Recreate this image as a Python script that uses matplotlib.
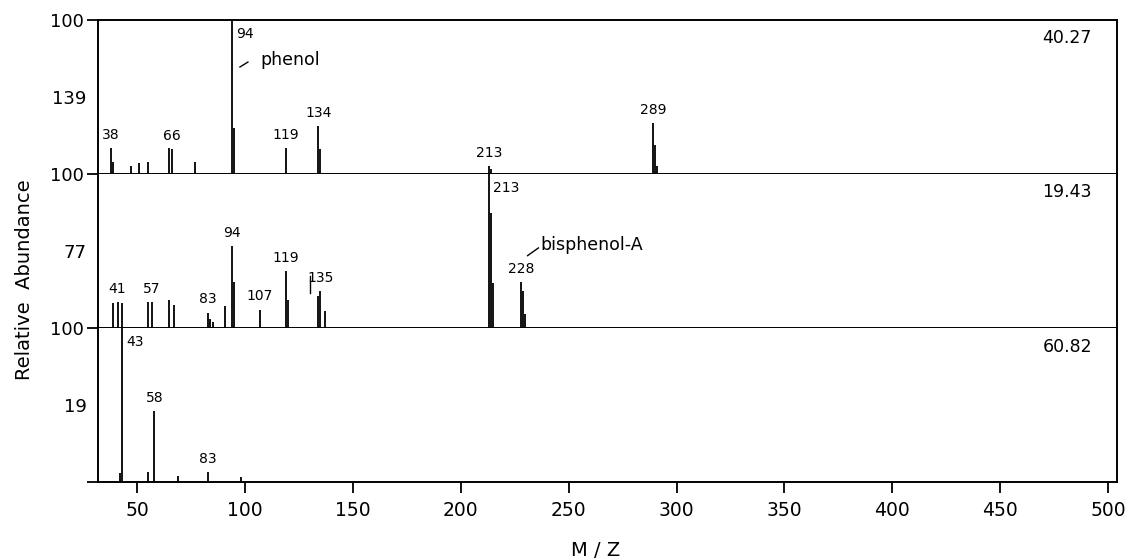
import matplotlib.pyplot as plt

# ---- spectra (m/z, relative abundance %) ----
top_mz = [38, 39, 47, 51, 55, 65, 66, 77, 94, 95, 119, 134, 135, 213, 214, 289, 290, 291]
top_int = [17, 8, 5, 7, 8, 17, 16, 8, 100, 30, 17, 31, 16, 5, 3, 33, 19, 5]

mid_mz = [39, 41, 43, 55, 57, 65, 67, 83, 84, 85, 91, 94, 95, 107, 119, 120,
          134, 135, 137, 213, 214, 215, 228, 229, 230]
mid_int = [16, 17, 16, 17, 17, 18, 15, 10, 6, 4, 14, 53, 30, 12, 37, 18,
           21, 24, 11, 100, 75, 29, 30, 24, 9]

bot_mz = [42, 43, 55, 58, 69, 83, 98]
bot_int = [6, 100, 6.5, 46, 4, 6.5, 3]

# labelled peaks in each panel
top_labels = [38, 66, 94, 119, 134, 213, 289]
mid_labels = [41, 57, 83, 94, 107, 119, 135, 213, 228]
bot_labels = [43, 58, 83]

scale_labels = ["139", "77", "19"]
ret_times = ["40.27", "19.43", "60.82"]
compounds = [("phenol", 94), ("bisphenol-A", 228), (None, None)]

x_ticks = [50, 100, 150, 200, 250, 300, 350, 400, 450, 500]

spectra = [(top_mz, top_int, top_labels),
           (mid_mz, mid_int, mid_labels),
           (bot_mz, bot_int, bot_labels)]

fig = plt.figure(figsize=(11.31, 5.59), dpi=100)
bottoms = [0.6887, 0.4132, 0.1377]
axes = [fig.add_axes([0.0866, b, 0.901, 0.2755]) for b in bottoms]

for i, ax in enumerate(axes):
    mz, inten, labels = spectra[i]
    ax.vlines(mz, 0, inten, color="black", lw=1.3)
    ax.set_xlim(31.9, 504.1)
    ax.set_ylim(0, 100)

    # peak labels
    for lab in labels:
        h = max(v for m, v in zip(mz, inten) if m == lab)
        if h >= 100:
            ax.text(lab + 2, 91, str(lab), ha="left", va="center", fontsize=10)
        else:
            ax.text(lab, h + 4, str(lab), ha="center", va="bottom", fontsize=10)

    ax.text(481, 88, ret_times[i], ha="center", va="center", fontsize=12.5)

    for s in ax.spines.values():
        s.set_linewidth(1.4)
    if i > 0:
        ax.spines["top"].set_visible(False)

    if i == 2:
        ax.set_yticks([0, 100], labels=["", "100"])
        ax.set_xticks(x_ticks)
        ax.tick_params(axis="x", direction="out", length=8, width=1.3, pad=6, labelsize=13.5)
    else:
        ax.set_yticks([100], labels=["100"])
        ax.set_xticks([])
    ax.set_yticks([50], labels=[scale_labels[i]], minor=True)
    ax.tick_params(axis="y", which="major", direction="out", length=8, width=1.3,
                   pad=2, labelsize=13)
    ax.tick_params(axis="y", which="minor", length=0, pad=8, labelsize=13)

# compound names with small leader marks
ax = axes[0]
ax.text(107, 74, "phenol", ha="left", va="center", fontsize=12.5)
ax.plot([97.7, 101.4], [69.5, 72.7], color="black", lw=1)

ax = axes[1]
ax.text(237, 54, "bisphenol-A", ha="left", va="center", fontsize=12.5)
ax.plot([231, 236], [47, 52], color="black", lw=1)
ax.plot([130, 130], [23, 34], color="black", lw=1)

fig.text(0.022, 0.50, "Relative  Abundance", rotation=90, ha="center", va="center", fontsize=14)
fig.text(0.527, 0.016, "M / Z", ha="center", va="center", fontsize=14)

fig.savefig("out.png", dpi=100)
